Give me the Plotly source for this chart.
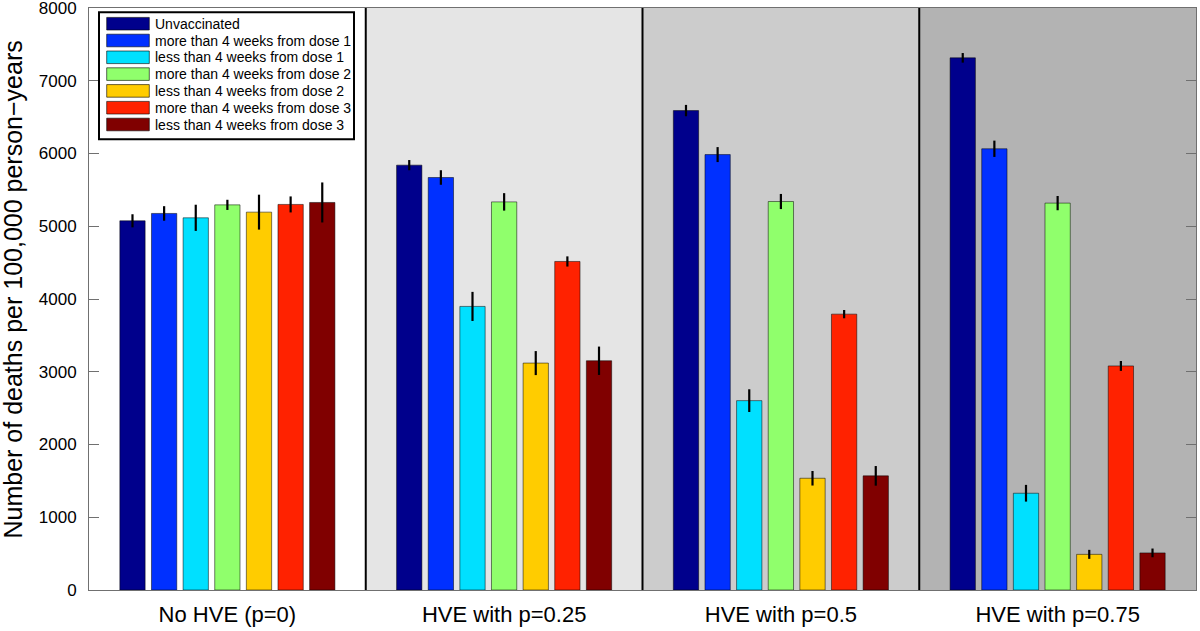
import plotly.graph_objects as go

# ---------------- data ----------------
groups = ["No HVE (p=0)", "HVE with p=0.25", "HVE with p=0.5", "HVE with p=0.75"]
series_names = [
    "Unvaccinated",
    "more than 4 weeks from dose 1",
    "less than 4 weeks from dose 1",
    "more than 4 weeks from dose 2",
    "less than 4 weeks from dose 2",
    "more than 4 weeks from dose 3",
    "less than 4 weeks from dose 3",
]
unvaccinated = [5075, 5840, 6590, 7315]
more4w_dose1 = [5176, 5670, 5985, 6065]
less4w_dose1 = [5116, 3898, 2603, 1330]
more4w_dose2 = [5294, 5335, 5340, 5318]
less4w_dose2 = [5194, 3119, 1536, 490]
more4w_dose3 = [5300, 4516, 3792, 3080]
less4w_dose3 = [5327, 3151, 1569, 510]

err_unvaccinated = [90, 70, 78, 66]
err_more4w_dose1 = [100, 100, 103, 112]
err_less4w_dose1 = [180, 200, 156, 115]
err_more4w_dose2 = [70, 120, 104, 98]
err_less4w_dose2 = [240, 165, 100, 62]
err_more4w_dose3 = [110, 70, 57, 68]
err_less4w_dose3 = [275, 195, 135, 60]

y_ticks = [0, 1000, 2000, 3000, 4000, 5000, 6000, 7000, 8000]
y_title = "Number of deaths per 100,000 person\u2212years"

values = [unvaccinated, more4w_dose1, less4w_dose1, more4w_dose2,
          less4w_dose2, more4w_dose3, less4w_dose3]
errors = [err_unvaccinated, err_more4w_dose1, err_less4w_dose1, err_more4w_dose2,
          err_less4w_dose2, err_more4w_dose3, err_less4w_dose3]

# ---------------- style ----------------
colors = ["#00008C", "#0030FF", "#00E0FF", "#90FF6C", "#FFCC00", "#FF2200", "#800000"]
group_bg = ["#FFFFFF", "#E5E5E5", "#CCCCCC", "#B3B3B3"]
FONT = "Liberation Sans, Arial, Helvetica, sans-serif"

W, H = 1200, 631
ML, MR, MT, MB = 89, 4, 8, 41
PW, PH = W - ML - MR, H - MT - MB

def px_x(px):
    return (px - ML) / PW

def px_y(py):
    return 1 - (py - MT) / PH

xpos = list(range(1, len(groups) + 1))

fig = go.Figure()
for name, vals, errs, col in zip(series_names, values, errors, colors):
    fig.add_trace(go.Bar(
        x=xpos, y=vals, name=name,
        marker=dict(color=col, line=dict(color="rgba(0,0,0,0.5)", width=1)),
        error_y=dict(type="data", array=errs, visible=True,
                     color="black", thickness=2.2, width=0),
        showlegend=False,
    ))

shapes = []
# group background shading
for i, bg in enumerate(group_bg):
    shapes.append(dict(type="rect", xref="x", yref="paper",
                       x0=xpos[i] - 0.5, x1=xpos[i] + 0.5, y0=0, y1=1,
                       fillcolor=bg, line=dict(width=0), layer="below"))
# black dividers
for i in range(len(groups) - 1):
    shapes.append(dict(type="line", xref="x", yref="paper",
                       x0=xpos[i] + 0.5, x1=xpos[i] + 0.5, y0=0, y1=1,
                       line=dict(color="black", width=2), layer="above"))

# custom legend
annotations = []
lx0, lx1, ly0, ly1 = 99, 354, 12.3, 139.3
shapes.append(dict(type="rect", xref="paper", yref="paper",
                   x0=px_x(lx0), x1=px_x(lx1), y0=px_y(ly1), y1=px_y(ly0),
                   fillcolor="white", line=dict(color="black", width=2), layer="above"))
row0, pitch, sh = 23.7, 16.8, 12.6
for i, (name, col) in enumerate(zip(series_names, colors)):
    cy = row0 + pitch * i
    shapes.append(dict(type="rect", xref="paper", yref="paper",
                       x0=px_x(106.7), x1=px_x(149.3),
                       y0=px_y(cy + sh / 2), y1=px_y(cy - sh / 2),
                       fillcolor=col, line=dict(color="rgba(0,0,0,0.6)", width=1),
                       layer="above"))
    annotations.append(dict(xref="paper", yref="paper", x=px_x(153), y=px_y(cy),
                            text=name, showarrow=False, xanchor="left", yanchor="middle",
                            font=dict(family=FONT, size=14, color="black")))

# y-axis title
annotations.append(dict(xref="paper", yref="paper", x=px_x(12.5), y=px_y(290),
                        text=y_title, textangle=-90, showarrow=False,
                        xanchor="center", yanchor="middle",
                        font=dict(family=FONT, size=25, color="black")))

fig.update_layout(
    width=W, height=H,
    margin=dict(l=ML, r=MR, t=MT, b=MB, pad=0, autoexpand=False),
    paper_bgcolor="white", plot_bgcolor="white",
    barmode="group", bargap=0.2, bargroupgap=0.2,
    shapes=shapes, annotations=annotations,
    showlegend=False,
    font=dict(family=FONT, color="black"),
)
fig.update_xaxes(
    range=[0.5, len(groups) + 0.5], tickvals=xpos, ticktext=groups,
    ticks="", showgrid=False, zeroline=False, automargin=False,
    showline=True, linecolor="#707070", linewidth=1, mirror=True,
    tickfont=dict(family=FONT, size=22, color="black"),
    ticklabelstandoff=5,
)
fig.update_yaxes(
    range=[0, 8000], tickvals=y_ticks, ticks="inside", ticklen=10,
    tickcolor="#707070", tickwidth=1, automargin=False,
    showgrid=False, zeroline=False,
    showline=True, linecolor="#707070", linewidth=1, mirror="ticks",
    tickfont=dict(family=FONT, size=17, color="black"),
    ticklabelstandoff=8, ticklabeloverflow="allow",
)

fig.write_html("out.html")
